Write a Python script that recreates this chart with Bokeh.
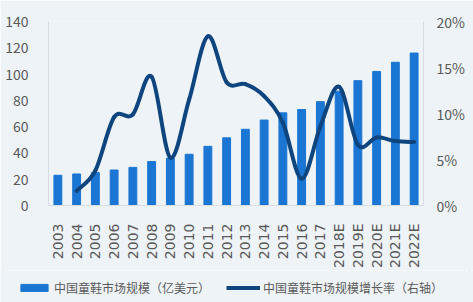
from bokeh.plotting import figure
from bokeh.layouts import column
from bokeh.models import Range1d, LinearAxis, Legend, LegendItem, FixedTicker, ColumnDataSource
from bokeh.embed import file_html
from bokeh.resources import INLINE

years = ["2003", "2004", "2005", "2006", "2007", "2008", "2009", "2010", "2011", "2012",
         "2013", "2014", "2015", "2016", "2017", "2018E", "2019E", "2020E", "2021E", "2022E"]
market = [23, 24, 25, 27, 29, 33.5, 36, 39, 45, 51.5,
          58, 65, 70.5, 73, 79, 87, 95, 102, 109, 116]
growth_years = years[1:]
growth = [1.6, 3.8, 9.6, 9.9, 14.0, 5.2, 11.5, 18.4, 13.4, 13.2,
          11.9, 9.0, 2.9, 8.6, 12.9, 6.6, 7.4, 7.0, 6.9]

bar_label = "中国童鞋市场规模（亿美元）"
line_label = "中国童鞋市场规模增长率（右轴）"

BG = "#eef3f8"
TXT = "#5a5a5a"
FONT = "Noto Sans CJK SC"
BAR_COLOR = "#1a76d2"
LINE_COLOR = "#0e457f"

idx = list(range(len(years)))
gidx = [years.index(y) for y in growth_years]
bar_src = ColumnDataSource(data=dict(x=idx, top=market))
line_src = ColumnDataSource(data=dict(x=gidx, y=growth))

p = figure(width=473, height=270, output_backend="svg", toolbar_location=None,
           x_range=Range1d(-0.5, len(years) - 0.5), y_range=Range1d(0, 140))
p.background_fill_color = BG
p.border_fill_color = BG
p.outline_line_color = None
p.min_border_left = 48
p.min_border_right = 50
p.min_border_top = 21
p.min_border_bottom = 65
p.xgrid.grid_line_color = None
p.ygrid.grid_line_color = None
p.extra_y_ranges = {"pct": Range1d(0, 20)}

p.vbar(x="x", top="top", width=0.42, color=BAR_COLOR, source=bar_src)

# smooth curve through growth points (Catmull-Rom -> cubic Bezier)
x0s, y0s, x1s, y1s, cx0, cy0, cx1, cy1 = [], [], [], [], [], [], [], []
n = len(gidx)
for i in range(n - 1):
    xa, ya = gidx[i], growth[i]
    xb, yb = gidx[i + 1], growth[i + 1]
    xp, yp = (gidx[i - 1], growth[i - 1]) if i > 0 else (xa, ya)
    xn, yn = (gidx[i + 2], growth[i + 2]) if i + 2 < n else (xb, yb)
    x0s.append(xa); y0s.append(ya); x1s.append(xb); y1s.append(yb)
    cx0.append(xa + (xb - xp) / 6.0); cy0.append(ya + (yb - yp) / 6.0)
    cx1.append(xb - (xn - xa) / 6.0); cy1.append(yb - (yn - ya) / 6.0)
p.bezier(x0=x0s, y0=y0s, x1=x1s, y1=y1s, cx0=cx0, cy0=cy0, cx1=cx1, cy1=cy1,
         line_color=LINE_COLOR, line_width=4, line_cap="round", y_range_name="pct")

# left axis
yax = p.yaxis[0]
yax.ticker = FixedTicker(ticks=[0, 20, 40, 60, 80, 100, 120, 140])
yax.axis_line_color = "#d8dde3"
yax.major_tick_line_color = None
yax.minor_tick_line_color = None
yax.major_label_standoff = 14
yax.major_label_text_font = FONT
yax.major_label_text_font_size = "14px"
yax.major_label_text_color = TXT

# right axis
ra = LinearAxis(y_range_name="pct")
ra.ticker = FixedTicker(ticks=[0, 5, 10, 15, 20])
ra.major_label_overrides = {0: "0%", 5: "5%", 10: "10%", 15: "15%", 20: "20%"}
ra.axis_line_color = "#d8dde3"
ra.major_tick_line_color = None
ra.minor_tick_line_color = None
ra.major_label_standoff = 7
ra.major_label_text_font = FONT
ra.major_label_text_font_size = "14px"
ra.major_label_text_color = TXT
p.add_layout(ra, "right")

# bottom axis
xax = p.xaxis[0]
xax.ticker = FixedTicker(ticks=idx)
xax.major_label_overrides = {i: y for i, y in enumerate(years)}
xax.major_label_orientation = 1.5708
xax.axis_line_color = "#d8dde3"
xax.major_tick_line_color = None
xax.minor_tick_line_color = None
xax.major_label_standoff = 12
xax.major_label_text_font = "DejaVu Sans"
xax.major_label_text_font_size = "14px"
xax.major_label_text_color = TXT

# legend strip (separate small figure under the chart; its renderers lie outside its view)
lg = figure(width=473, height=32, output_backend="svg", toolbar_location=None,
            x_range=Range1d(1000, 1001), y_range=Range1d(1000, 1001))
lg.frame_align = False
lg.background_fill_color = BG
lg.border_fill_color = BG
lg.outline_line_color = None
lg.min_border = 0
lg.min_border_left = 0
lg.min_border_right = 0
lg.min_border_top = 0
lg.min_border_bottom = 0
lg.axis.visible = False
lg.grid.visible = False
r_bar = lg.vbar(x="x", top="top", width=0.42, color=BAR_COLOR, source=bar_src)
r_line = lg.line(x="x", y="y", line_color=LINE_COLOR, line_width=4, source=line_src)
legend = Legend(items=[LegendItem(label=bar_label, renderers=[r_bar]),
                       LegendItem(label=line_label, renderers=[r_line])],
                orientation="horizontal", location=(17, 6),
                background_fill_alpha=0, border_line_color=None,
                label_text_font=FONT, label_text_font_size="12px",
                label_text_color=TXT, glyph_width=34, glyph_height=9,
                spacing=16, padding=0, margin=0, label_standoff=3)
lg.add_layout(legend, "center")

layout = column(p, lg, spacing=0)
layout.stylesheets = [":host { outline: 1px solid #c3c7cc; outline-offset: -4px; z-index: 10; }"]
open("out.html", "w").write(file_html(layout, INLINE))
